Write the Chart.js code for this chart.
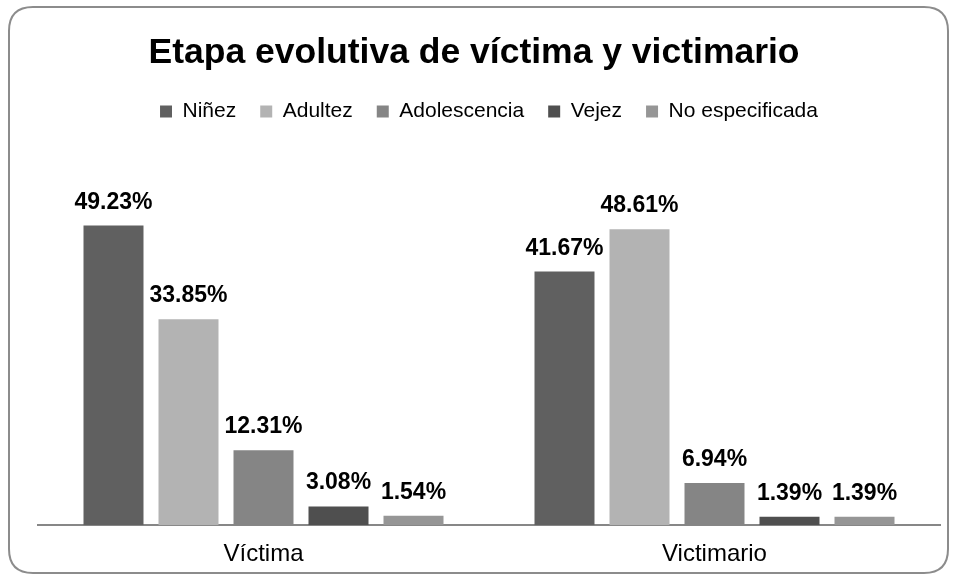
<!DOCTYPE html>
<html>
<head>
<meta charset="utf-8">
<script src="https://cdn.jsdelivr.net/npm/chart.js@4.4.1/dist/chart.umd.min.js"></script>
<style>
html,body{margin:0;padding:0;background:#fff;}
#wrap{width:956px;height:577px;position:relative;}
</style>
</head>
<body>
<div id="wrap"><canvas id="c" width="956" height="577"></canvas></div>
<script>
const categories = ['Víctima', 'Victimario'];
const seriesNames = ['Niñez', 'Adultez', 'Adolescencia', 'Vejez', 'No especificada'];
const ninez = [49.23, 41.67];
const adultez = [33.85, 48.61];
const adolescencia = [12.31, 6.94];
const vejez = [3.08, 1.39];
const noEspecificada = [1.54, 1.39];
const seriesColors = ['#606060', '#b3b3b3', '#858585', '#4f4f4f', '#969696'];
const chartTitle = 'Etapa evolutiva de víctima y victimario';

const FONT = "'Liberation Sans', Arial, sans-serif";
const seriesValues = [ninez, adultez, adolescencia, vejez, noEspecificada];

const frame = {
  id: 'frame',
  beforeDraw(chart) {
    const ctx = chart.ctx;
    ctx.save();
    ctx.fillStyle = '#fff';
    ctx.fillRect(0, 0, chart.width, chart.height);
    const x = 9, y = 7, w = 939, h = 566, r = 24;
    ctx.beginPath();
    ctx.moveTo(x + r, y);
    ctx.lineTo(x + w - r, y);
    ctx.quadraticCurveTo(x + w, y, x + w, y + r);
    ctx.lineTo(x + w, y + h - r);
    ctx.quadraticCurveTo(x + w, y + h, x + w - r, y + h);
    ctx.lineTo(x + r, y + h);
    ctx.quadraticCurveTo(x, y + h, x, y + h - r);
    ctx.lineTo(x, y + r);
    ctx.quadraticCurveTo(x, y, x + r, y);
    ctx.closePath();
    ctx.strokeStyle = '#8c8c8c';
    ctx.lineWidth = 2;
    ctx.stroke();
    // title
    ctx.font = 'bold 35.5px ' + FONT;
    ctx.fillStyle = '#000';
    ctx.textAlign = 'center';
    ctx.textBaseline = 'middle';
    ctx.fillText(chartTitle, 474, 53);
    ctx.restore();
  }
};

const valueLabels = {
  id: 'valueLabels',
  afterDatasetsDraw(chart) {
    const ctx = chart.ctx;
    ctx.save();
    ctx.font = 'bold 23px ' + FONT;
    ctx.fillStyle = '#000';
    ctx.textAlign = 'center';
    ctx.textBaseline = 'alphabetic';
    chart.data.datasets.forEach((ds, i) => {
      const meta = chart.getDatasetMeta(i);
      meta.data.forEach((el, j) => {
        ctx.fillText(ds.data[j].toFixed(2) + '%', el.x, el.y - 17);
      });
    });
    ctx.restore();
  }
};

new Chart(document.getElementById('c'), {
  type: 'bar',
  data: {
    labels: categories,
    datasets: seriesNames.map((n, i) => ({
      label: n,
      data: seriesValues[i],
      backgroundColor: seriesColors[i],
      borderWidth: 0,
      categoryPercentage: 0.8315,
      barPercentage: 0.8
    }))
  },
  options: {
    responsive: false,
    animation: false,
    layout: { padding: { left: 38, right: 16, top: 77, bottom: 1 } },
    plugins: {
      title: { display: false },
      legend: {
        display: true,
        position: 'top',
        labels: {
          color: '#000',
          font: { family: FONT, size: 21 },
          boxWidth: 12,
          boxHeight: 12,
          padding: 24
        }
      },
      tooltip: { enabled: false }
    },
    scales: {
      x: {
        grid: { display: false },
        border: { display: true, color: '#878787', width: 2 },
        ticks: { color: '#000', font: { family: FONT, size: 24 }, padding: 7 }
      },
      y: {
        display: false,
        min: 0,
        max: 64.6
      }
    }
  },
  plugins: [frame, valueLabels]
});
</script>
</body>
</html>
